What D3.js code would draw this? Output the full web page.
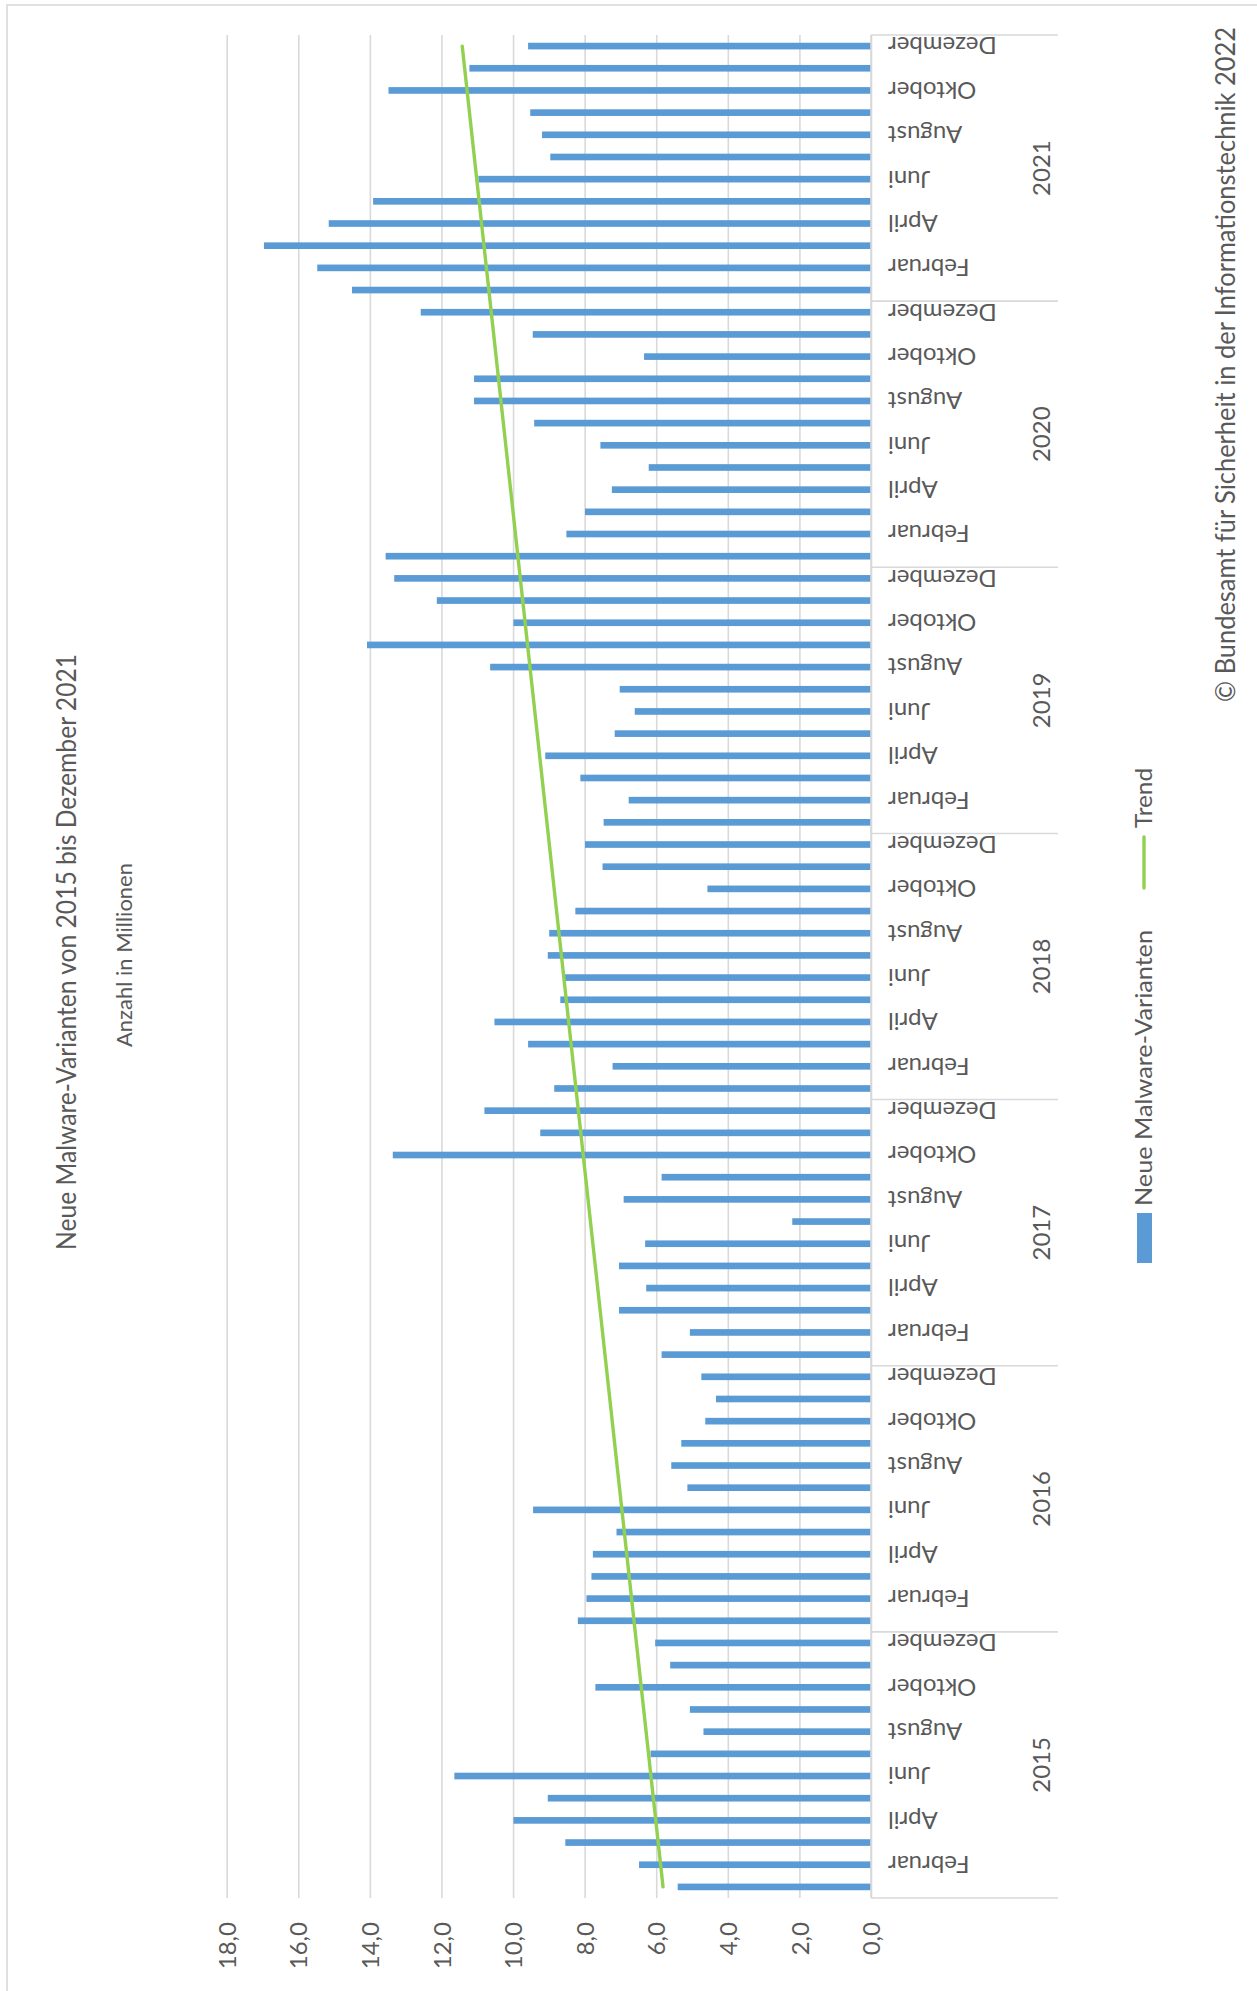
<!DOCTYPE html>
<html>
<head>
<meta charset="utf-8">
<script src="https://cdn.jsdelivr.net/npm/d3@7"></script>
<style>
  html, body { margin: 0; padding: 0; background: #fff; }
  svg { display: block; font-family: Lato, "Open Sans", sans-serif; }
</style>
</head>
<body>
<svg id="chart" width="1257" height="1991"></svg>
<script>
// Monthly counts of new malware variants, in millions
const years = [2015, 2016, 2017, 2018, 2019, 2020, 2021];
const monthNames = ["Januar", "Februar", "März", "April", "Mai", "Juni",
                    "Juli", "August", "September", "Oktober", "November", "Dezember"];
const values2015 = [5.40, 6.48, 8.54, 9.99, 9.03, 11.64, 6.16, 4.68, 5.06, 7.70, 5.61, 6.03];
const values2016 = [8.19, 7.95, 7.81, 7.77, 7.11, 9.44, 5.13, 5.58, 5.30, 4.63, 4.33, 4.74];
const values2017 = [5.85, 5.06, 7.04, 6.28, 7.04, 6.31, 2.20, 6.91, 5.85, 13.36, 9.24, 10.80];
const values2018 = [8.85, 7.22, 9.58, 10.52, 8.68, 8.56, 9.03, 8.99, 8.26, 4.57, 7.50, 7.99];
const values2019 = [7.47, 6.77, 8.12, 9.10, 7.16, 6.60, 7.02, 10.64, 14.08, 9.99, 12.13, 13.32];
const values2020 = [13.56, 8.51, 7.99, 7.24, 6.21, 7.56, 9.41, 11.09, 11.09, 6.34, 9.45, 12.58];
const values2021 = [14.50, 15.47, 16.96, 15.15, 13.91, 10.97, 8.96, 9.19, 9.52, 13.48, 11.22, 9.58];
// Linear trend: value at the first and at the last month
const trendEnds = [5.81, 11.42];
const valueTicks = [0, 2, 4, 6, 8, 10, 12, 14, 16, 18];

const title = "Neue Malware-Varianten von 2015 bis Dezember 2021";
const subtitle = "Anzahl in Millionen";
const seriesName = "Neue Malware-Varianten";
const trendName = "Trend";
const copyright = "© Bundesamt für Sicherheit in der Informationstechnik 2022";

const yearValues = [values2015, values2016, values2017, values2018, values2019, values2020, values2021];
const data = [];
years.forEach((yr, yi) => yearValues[yi].forEach((v, m) => {
  data.push({ key: yr + "-" + (m + 1), year: yr, month: m, value: v });
}));

// The chart is laid out as an upright column chart and then turned a quarter
// turn counter-clockwise onto the tall page.
const W = 1991, H = 1257;
const svg = d3.select("#chart");
const root = svg.append("g").attr("transform", `translate(0,${W}) rotate(-90)`);

const textColor = "#595959";
const lineColor = "#d9d9d9";

// outer frame
root.append("rect")
  .attr("x", -10).attr("y", 7).attr("width", 1996).attr("height", 1270)
  .attr("fill", "none").attr("stroke", lineColor).attr("stroke-width", 1.6);

const plotLeft = 93, plotRight = 1956, plotTop = 226.7, plotBottom = 871;

const x = d3.scaleBand()
  .domain(data.map(d => d.key))
  .range([plotLeft, plotRight])
  .paddingInner(0.7)
  .paddingOuter(0.35);

const y = d3.scaleLinear().domain([0, 18]).range([plotBottom, plotTop]);

const de = d3.formatLocale({ decimal: ",", thousands: ".", grouping: [3], currency: ["", " €"] });
const fmt = de.format(".1f");

// value axis with gridlines
const yAxis = root.append("g")
  .attr("transform", `translate(${plotLeft},0)`)
  .call(d3.axisLeft(y).tickValues(valueTicks).tickFormat(fmt)
          .tickSizeInner(-(plotRight - plotLeft)).tickSizeOuter(0).tickPadding(24));
yAxis.select(".domain").remove();
yAxis.selectAll(".tick line").attr("stroke", lineColor).attr("stroke-width", 1.6);
yAxis.selectAll(".tick text")
  .attr("fill", textColor).attr("font-size", 24).attr("font-family", "Lato")
  .attr("dy", "0.36em");

// bars
root.append("g").selectAll("rect")
  .data(data)
  .join("rect")
  .attr("x", d => x(d.key))
  .attr("width", x.bandwidth())
  .attr("y", d => y(d.value))
  .attr("height", d => y(0) - y(d.value))
  .attr("fill", "#5b9bd5");

// category axis line
root.append("line")
  .attr("x1", plotLeft).attr("x2", plotRight)
  .attr("y1", plotBottom).attr("y2", plotBottom)
  .attr("stroke", lineColor).attr("stroke-width", 1.6);

// year group separators
const step = x.step();
const boundaries = d3.range(years.length + 1).map(i => plotLeft + i * 12 * step);
root.append("g").selectAll("line")
  .data(boundaries)
  .join("line")
  .attr("x1", d => d).attr("x2", d => d)
  .attr("y1", plotBottom).attr("y2", 1058)
  .attr("stroke", lineColor).attr("stroke-width", 1.6);

// month labels (every second month)
const center = d => x(d.key) + x.bandwidth() / 2;
root.append("g").selectAll("text")
  .data(data.filter(d => d.month % 2 === 1))
  .join("text")
  .attr("transform", d => `translate(${center(d)},${plotBottom + 17}) rotate(-90)`)
  .attr("text-anchor", "end")
  .attr("dy", "0.36em")
  .attr("fill", textColor)
  .attr("font-size", 24)
  .text(d => monthNames[d.month]);

// year labels
root.append("g").selectAll("text")
  .data(years)
  .join("text")
  .attr("x", (d, i) => (boundaries[i] + boundaries[i + 1]) / 2)
  .attr("y", 1050)
  .attr("text-anchor", "middle")
  .attr("fill", textColor)
  .attr("font-size", 24)
  .text(d => d);

// trend line
const firstKey = data[0].key, lastKey = data[data.length - 1].key;
const trendPts = [
  { key: firstKey, value: trendEnds[0] },
  { key: lastKey, value: trendEnds[1] }
];
root.append("path")
  .datum(trendPts)
  .attr("d", d3.line().x(d => x(d.key) + x.bandwidth() / 2).y(d => y(d.value)))
  .attr("fill", "none")
  .attr("stroke", "#92d050")
  .attr("stroke-width", 3.4)
  .attr("stroke-linecap", "round");

// title block
root.append("text")
  .attr("x", 1039).attr("y", 76)
  .attr("text-anchor", "middle")
  .attr("fill", textColor)
  .attr("font-size", 27)
  .attr("textLength", 596).attr("lengthAdjust", "spacingAndGlyphs")
  .text(title);
root.append("text")
  .attr("x", 1036).attr("y", 132)
  .attr("text-anchor", "middle")
  .attr("fill", textColor)
  .attr("font-size", 21)
  .attr("textLength", 184).attr("lengthAdjust", "spacingAndGlyphs")
  .text(subtitle);

// legend
const legend = root.append("g");
legend.append("rect")
  .attr("x", 728).attr("y", 1137).attr("width", 50).attr("height", 15)
  .attr("fill", "#5b9bd5");
legend.append("text")
  .attr("x", 785).attr("y", 1152)
  .attr("fill", textColor).attr("font-size", 24)
  .attr("textLength", 276).attr("lengthAdjust", "spacingAndGlyphs")
  .text(seriesName);
legend.append("line")
  .attr("x1", 1103).attr("x2", 1154).attr("y1", 1144).attr("y2", 1144)
  .attr("stroke", "#92d050").attr("stroke-width", 3.4).attr("stroke-linecap", "round");
legend.append("text")
  .attr("x", 1163).attr("y", 1152)
  .attr("fill", textColor).attr("font-size", 24)
  .attr("textLength", 60).attr("lengthAdjust", "spacingAndGlyphs")
  .text(trendName);

// source note
root.append("text")
  .attr("x", 1964).attr("y", 1235)
  .attr("text-anchor", "end")
  .attr("fill", textColor).attr("font-size", 26)
  .attr("textLength", 675).attr("lengthAdjust", "spacingAndGlyphs")
  .text(copyright);
</script>
</body>
</html>
